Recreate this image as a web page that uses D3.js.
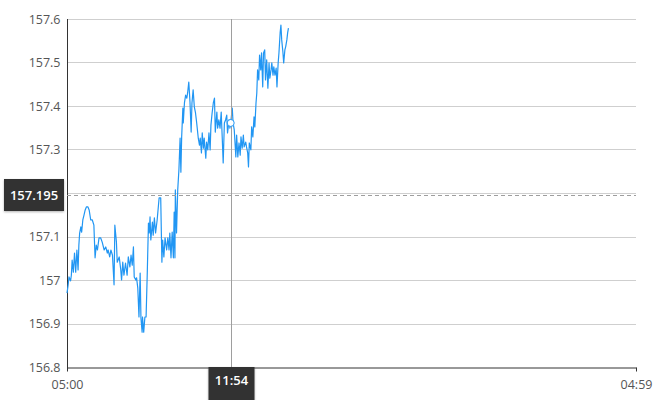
<!DOCTYPE html>
<html lang="en">
<head>
<meta charset="UTF-8">
<script src="https://d3js.org/d3.v7.min.js"></script>
<style>
body { margin: 0; background: #fff; font-family: "Open Sans", sans-serif; }
.axis text { fill: #555; font-size: 12.5px; font-family: "Open Sans", sans-serif; }
.axis path, .axis line { stroke: #333; }
.grid line { stroke: #cfcfcf; }
.tag text { fill: #fff; font-size: 13px; font-weight: 600; }
</style>
</head>
<body>
<svg id="chart" width="670" height="400"></svg>
<script>
// minutes after 05:00 and price
var minutes = [0,3,5,9,11,13,16,19,22,25,28,30,32,35,37,40,43,46,49,53,56,60,64,68,71,74,77,81,85,89,
  94,98,102,104,108,111,115,119,121,125,127,132,136,138,141,144,148,152,155,159,162,165,168,170,174,176,179,182,185,187,
  190,191,194,197,200,203,206,208,210,212,216,218,221,224,228,233,237,240,242,245,248,252,255,258,260,263,266,269,271,273,
  274,277,280,283,286,288,290,293,294,297,300,303,305,308,311,314,316,319,322,325,328,332,335,337,340,342,345,347,351,353,
  356,359,362,364,367,370,373,375,379,381,384,387,390,393,395,398,401,404,406,410,412,414,418,420,423,427,429,432,435,438,
  440,443,446,448,452,454,457,459,461,465,467,470,473,475,478,480,482,485,487,490,492,495,497,500,502,505,508,511,513,516,
  518,521,523,526,529,531,534,536,539,541,543,546,548,551,553,556,558,560]
var prices = [156.970,156.989,157.007,156.998,157.011,157.046,157.018,157.062,157.018,157.069,157.023,157.080,157.108,157.122,157.110,157.138,157.149,157.161,157.168,157.168,
  157.161,157.138,157.138,157.126,157.051,157.080,157.069,157.097,157.097,157.087,157.069,157.076,157.062,157.069,157.053,157.069,157.057,156.989,157.126,157.087,
  157.041,157.053,157.023,157.000,157.041,157.011,157.039,157.011,157.053,157.030,157.057,157.034,157.076,157.007,157.000,157.005,156.982,156.915,157.016,156.913,
  156.880,156.915,156.880,156.915,156.915,157.016,157.131,157.108,157.145,157.092,157.133,157.103,157.143,157.108,157.138,157.189,157.189,157.041,157.092,157.053,
  157.097,157.069,157.097,157.069,157.108,157.051,157.110,157.051,157.156,157.051,157.207,157.108,157.207,157.253,157.326,157.248,157.329,157.395,157.361,157.407,
  157.425,157.418,157.430,157.455,157.409,157.340,157.407,157.437,157.398,157.384,157.361,157.326,157.310,157.326,157.292,157.338,157.303,157.326,157.280,157.317,
  157.299,157.338,157.299,157.356,157.384,157.407,157.418,157.340,157.386,157.349,157.368,157.349,157.386,157.317,157.269,157.361,157.368,157.379,157.338,157.368,
  157.349,157.361,157.395,157.361,157.345,157.283,157.333,157.283,157.315,157.287,157.329,157.303,157.333,157.306,157.317,157.306,157.292,157.260,157.315,157.299,
  157.352,157.329,157.375,157.352,157.407,157.430,157.483,157.460,157.517,157.483,157.522,157.444,157.522,157.529,157.460,157.506,157.441,157.499,157.464,157.483,
  157.499,157.471,157.490,157.471,157.487,157.444,157.499,157.522,157.568,157.586,157.552,157.524,157.499,157.529,157.536,157.552,157.568,157.579]
var yTicks = [156.8, 156.9, 157, 157.1, 157.2, 157.3, 157.4, 157.5, 157.6]
var sessionStart = new Date(2024, 0, 2, 5, 0)
var sessionEnd = new Date(2024, 0, 3, 4, 59)
var cursorMinute = 414
var cursorPrice = 157.195

var svg = d3.select("#chart"),
    margin = {top: 19, right: 34, bottom: 33, left: 67},
    width = +svg.attr("width") - margin.left - margin.right,
    height = +svg.attr("height") - margin.top - margin.bottom

var toDate = m => d3.timeMinute.offset(sessionStart, m)
var data = minutes.map((m, i) => ({date: toDate(m), value: prices[i]}))

var x = d3.scaleTime().domain([sessionStart, sessionEnd]).range([margin.left, margin.left + width])
var y = d3.scaleLinear().domain([156.8, 157.6]).range([margin.top + height, margin.top])

var cx = Math.round(x(toDate(cursorMinute))) + 0.5
var cy = y(cursorPrice)

// grid
svg.append("g")
    .attr("class", "grid")
    .selectAll("line")
    .data(yTicks.slice(1))
    .enter().append("line")
    .attr("x1", x.range()[0]).attr("x2", x.range()[1])
    .attr("y1", d => Math.round(y(d)) + 0.5).attr("y2", d => Math.round(y(d)) + 0.5)

// y axis (the label under the price tag is covered, so skip it)
var yAxis = d3.axisLeft(y).tickValues(yTicks).tickSize(0).tickPadding(7)
    .tickFormat(d => Math.abs(y(d) - cy) < 16 ? "" : String(+d.toFixed(1)))
svg.append("g")
    .attr("class", "axis")
    .attr("transform", `translate(${margin.left + 0.5},0)`)
    .call(yAxis)
    .call(g => g.select(".domain").attr("d", `M0,${margin.top}V${margin.top + height + 4}`))

// x axis
var xAxis = d3.axisBottom(x).tickValues([sessionStart, sessionEnd]).tickSize(4).tickSizeOuter(0).tickPadding(9)
    .tickFormat(d3.timeFormat("%H:%M"))
svg.append("g")
    .attr("class", "axis")
    .attr("transform", `translate(0,${margin.top + height + 0.5})`)
    .call(xAxis)

// price line
var line = d3.line().x(d => x(d.date)).y(d => y(d.value))
svg.append("path")
    .datum(data)
    .attr("fill", "none")
    .attr("stroke", "#2196f3")
    .attr("stroke-width", 1.2)
    .attr("stroke-linejoin", "round")
    .attr("d", line)

// crosshair
svg.append("line")
    .attr("x1", cx).attr("x2", cx)
    .attr("y1", margin.top).attr("y2", margin.top + height)
    .attr("stroke", "#9e9e9e")
svg.append("line")
    .attr("x1", margin.left).attr("x2", margin.left + width)
    .attr("y1", Math.round(cy) + 0.5).attr("y2", Math.round(cy) + 0.5)
    .attr("stroke", "#9e9e9e")
    .attr("stroke-dasharray", "4,3")

var hover = data.find(d => +d.date === +toDate(cursorMinute))
svg.append("circle")
    .attr("cx", x(hover.date)).attr("cy", y(hover.value))
    .attr("r", 3.5)
    .attr("fill", "#fff")
    .attr("stroke", "#2196f3")
    .attr("stroke-width", 1)

// tags
var shadow = svg.append("defs").append("filter").attr("id", "sh")
shadow.append("feDropShadow").attr("dx", 0).attr("dy", 1).attr("stdDeviation", 1).attr("flood-opacity", 0.3)

var yTag = svg.append("g").attr("class", "tag")
yTag.append("rect")
    .attr("x", 4).attr("y", Math.round(cy) - 16)
    .attr("width", 60).attr("height", 32)
    .attr("fill", "#303030")
    .attr("filter", "url(#sh)")
yTag.append("text")
    .attr("x", 34).attr("y", Math.round(cy) + 5)
    .attr("text-anchor", "middle")
    .text(cursorPrice.toFixed(3))

var xTag = svg.append("g").attr("class", "tag")
xTag.append("rect")
    .attr("x", cx - 23).attr("y", margin.top + height)
    .attr("width", 46).attr("height", 40)
    .attr("fill", "#303030")
    .attr("filter", "url(#sh)")
xTag.append("text")
    .attr("x", cx).attr("y", margin.top + height + 18)
    .attr("text-anchor", "middle")
    .text(d3.timeFormat("%H:%M")(toDate(cursorMinute)))
</script>
</body>
</html>
